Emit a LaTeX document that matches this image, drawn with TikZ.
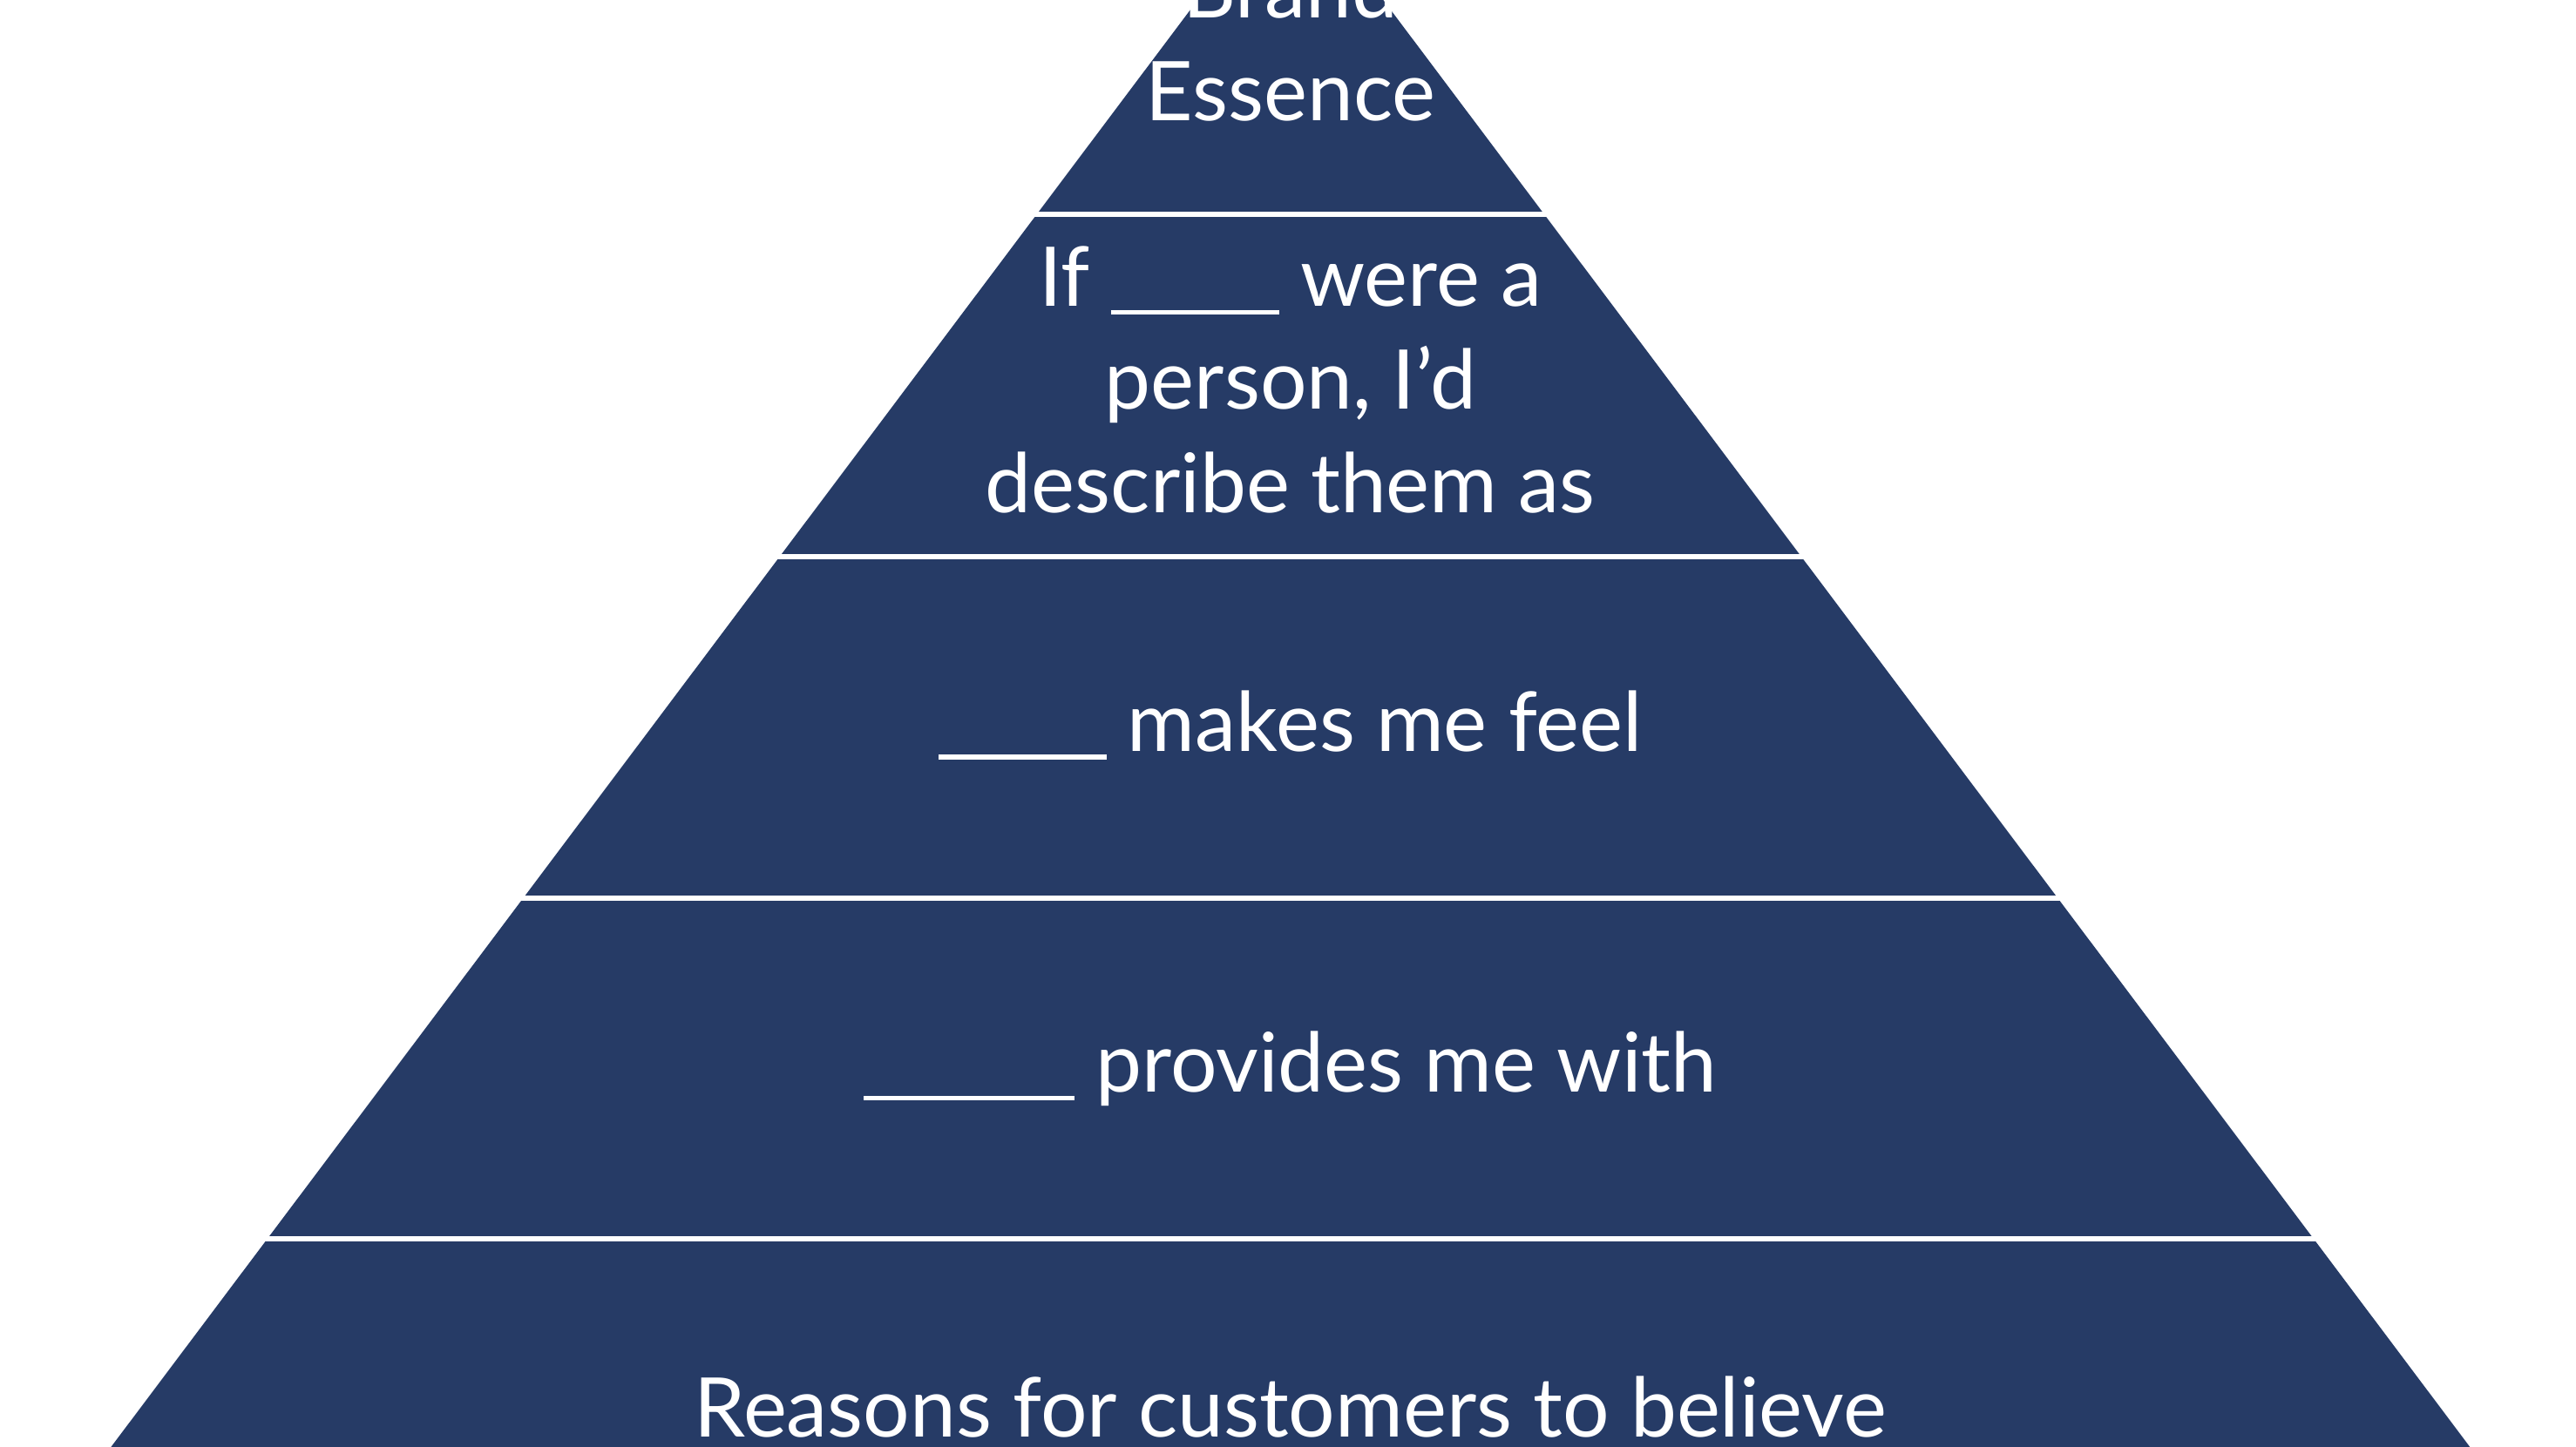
\documentclass[tikz,border=0pt]{standalone}
\usepackage{fontspec}
\setmainfont{Lato}
\definecolor{navy}{HTML}{263B66}
\newcommand{\blank}[1]{\rule[-0.1em]{#1}{0.06em}}
\begin{document}
\begin{tikzpicture}[x=0.5pt,y=-0.5pt,
  txt/.style={text=white,font=\fontsize{25}{31}\selectfont,anchor=base,inner sep=0pt},
  sep/.style={draw=white,line width=1.5pt}]
\useasboundingbox (0,0) rectangle (1563,878);
\clip (0,0) rectangle (1563,878);
\fill[navy] (783,-75) -- (1560,960) -- (6,960) -- cycle;
\foreach \y in {130,338,545,752}{
  \pgfmathsetmacro{\hw}{(\y+75)*0.75}
  \draw[sep] (783-\hw-3,\y) -- (783+\hw+3,\y);
}
\node[txt] (t1) at (783,11) {Brand};
\node[txt] (t2) at (783,73) {Essence};
\node[txt] (t3) at (783,186) {If \blank{51pt} were a};
\node[txt] (t4) at (783,248) {person, I’d};
\node[txt] (t5) at (783,311) {describe them as};
\node[txt] (t6) at (783,456) {\blank{51pt} makes me feel};
\node[txt] (t7) at (783,663) {\blank{64pt} provides me with};
\node[txt] (t8) at (783,872) {Reasons for customers to believe};
\end{tikzpicture}
\end{document}
